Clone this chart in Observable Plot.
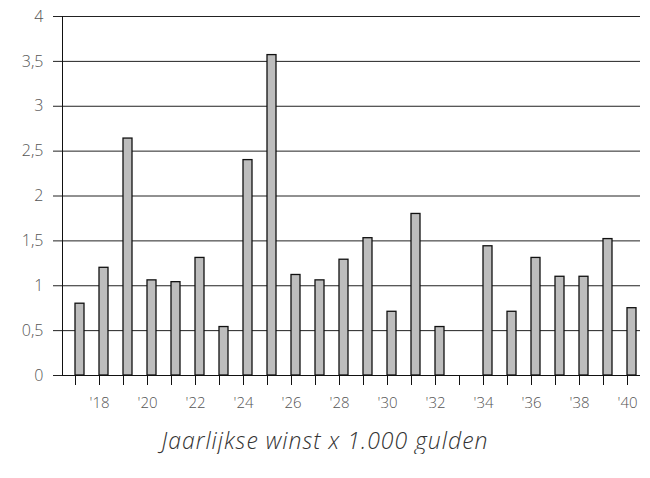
<!DOCTYPE html>
<html>
<head>
<meta charset="utf-8">
<script src="https://cdn.jsdelivr.net/npm/d3@7"></script>
<script src="https://cdn.jsdelivr.net/npm/@observablehq/plot@0.6"></script>
<style>
  body { margin: 0; background: #fff; }
  #chart svg { display: block; }
  .caption { font-family: "Open Sans", sans-serif; font-style: italic; font-weight: 300; font-size: 23px; letter-spacing: 1px; color: #333; text-align: center; width: 650px; margin-top: 11px; line-height: 28px; }
</style>
</head>
<body>
<div id="chart"></div>
<div class="caption">Jaarlijkse winst x 1.000 gulden</div>
<script>
const years = [1917,1918,1919,1920,1921,1922,1923,1924,1925,1926,1927,1928,1929,1930,1931,1932,1933,1934,1935,1936,1937,1938,1939,1940];
const winst = [0.80,1.20,2.64,1.06,1.04,1.31,0.54,2.40,3.57,1.12,1.06,1.29,1.53,0.71,1.80,0.54,null,1.44,0.71,1.31,1.10,1.10,1.52,0.75];
const yTicks = [0,0.5,1,1.5,2,2.5,3,3.5,4];
const labelYears = [1918,1920,1922,1924,1926,1928,1930,1932,1934,1936,1938,1940];

const data = years.map((y, i) => ({year: y, value: winst[i]})).filter(d => d.value != null);

const plot = Plot.plot({
  width: 650,
  height: 415,
  marginTop: 16,
  marginBottom: 40,
  marginLeft: 62,
  marginRight: 10,
  style: {fontFamily: "'Open Sans', sans-serif", fontSize: "16px", color: "#555", background: "#fff"},
  x: {type: "band", domain: years, padding: 0},
  y: {domain: [0, 4]},
  marks: [
    Plot.gridY(yTicks, {stroke: "#222", strokeOpacity: 1, strokeWidth: 1}),
    Plot.axisY(yTicks, {tickSize: 9, tickPadding: 10, stroke: "#222", tickFormat: d => String(d).replace(".", ","), fontSize: 16, fontWeight: 300, label: null}),
    Plot.frame({anchor: "left", stroke: "#111"}),
    Plot.barY(data, {x: "year", y: "value", insetLeft: 12, insetRight: 3, fill: "#bdbdbd", stroke: "#111", strokeWidth: 1.3}),
    Plot.ruleY([0], {stroke: "#111"}),
    Plot.axisX(years, {tickSize: 10, stroke: "#111", text: null, label: null}),
    Plot.axisX(labelYears, {tickSize: 0, tickPadding: 22, tickFormat: d => "'" + String(d).slice(2), fontSize: 15, fontWeight: 300, label: null, style: {letterSpacing: "1.5px"}})
  ]
});
document.getElementById("chart").appendChild(plot);
</script>
</body>
</html>
